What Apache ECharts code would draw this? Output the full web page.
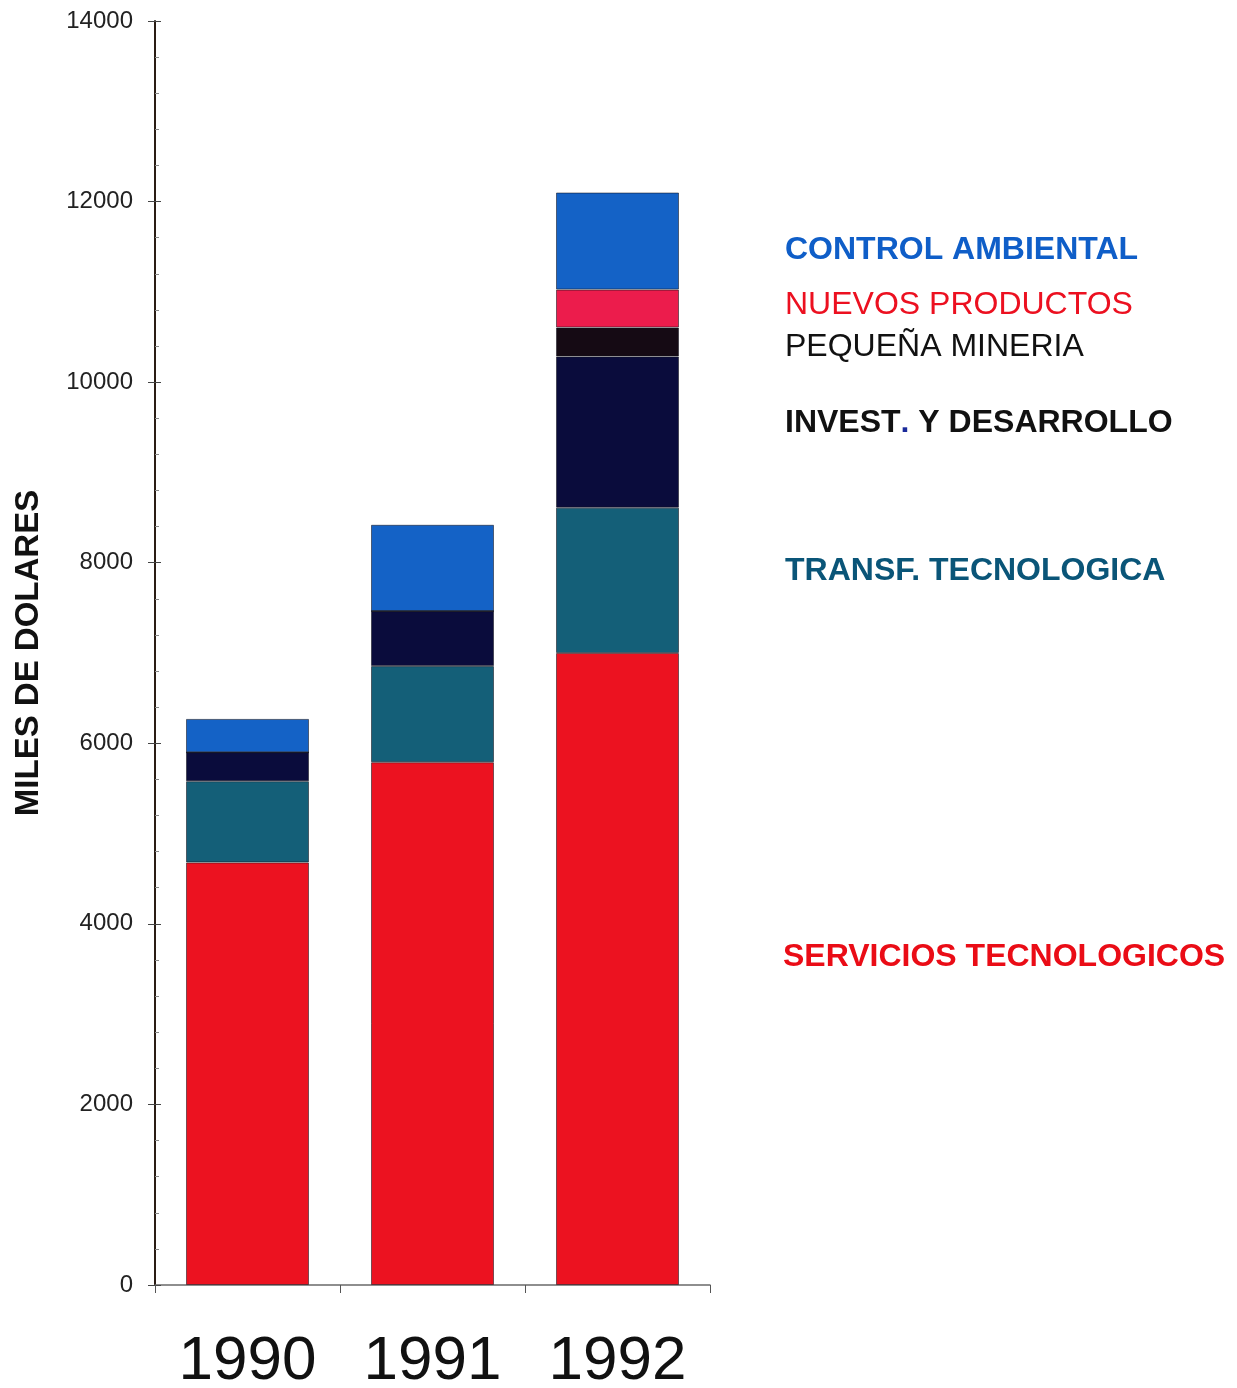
<!DOCTYPE html>
<html>
<head>
<meta charset="utf-8">
<script src="https://cdn.jsdelivr.net/npm/echarts@6/dist/echarts.min.js"></script>
<style>
html,body{margin:0;padding:0;background:#fff;}
#chart{width:1237px;height:1388px;}
</style>
</head>
<body>
<div id="chart"></div>
<script>
const years = ['1990', '1991', '1992'];
const serviciosTecnologicos = [4680, 5790, 7000];
const transfTecnologica = [900, 1065, 1610];
const investDesarrollo = [320, 610, 1675];
const pequenaMineria = [0, 0, 320];
const nuevosProductos = [0, 0, 420];
const controlAmbiental = [370, 955, 1075];
const yTicks = [0, 2000, 4000, 6000, 8000, 10000, 12000, 14000];

const font = 'Liberation Sans, Arial, Helvetica, sans-serif';
const chart = echarts.init(document.getElementById('chart'));

function seg(name, data, color) {
  return {
    name: name, type: 'bar', stack: 'total', data: data,
    barWidth: 123,
    itemStyle: { color: color, borderColor: 'rgba(20,20,30,0.55)', borderWidth: 1 }
  };
}

chart.setOption({
  backgroundColor: '#ffffff',
  animation: false,
  grid: { left: 155, right: 527, top: 21, bottom: 103, containLabel: false, outerBoundsMode: 'none' },
  xAxis: {
    type: 'category', data: years,
    axisLine: { lineStyle: { color: '#6a6a6a', width: 1.5 } },
    axisTick: { show: true, length: 8, lineStyle: { color: '#555' } },
    axisLabel: { fontFamily: font, fontSize: 62, color: '#111', margin: 46 }
  },
  yAxis: [{
    type: 'value', min: yTicks[0], max: yTicks[yTicks.length - 1], interval: 2000,
    axisLine: { show: true, lineStyle: { color: '#2a1c14', width: 2 } },
    axisTick: { show: true, length: 7, lineStyle: { color: '#444' } },
    splitLine: { show: false },
    axisLabel: { fontFamily: font, fontSize: 24, color: '#222', margin: 22, formatter: function (v) { return String(v); } },
    name: 'MILES DE DOLARES', nameLocation: 'middle', nameGap: 110, nameRotate: 90,
    nameTextStyle: { fontFamily: font, fontSize: 33, fontWeight: 'bold', color: '#111' }
  }, {
    type: 'value', min: yTicks[0], max: yTicks[yTicks.length - 1], interval: 2000,
    position: 'left',
    axisLine: { show: false },
    axisTick: { show: true, inside: true, length: 6, lineStyle: { color: '#444' } },
    minorTick: { show: true, splitNumber: 5, length: 4, lineStyle: { color: '#888' } },
    splitLine: { show: false },
    axisLabel: { show: false }
  }],
  series: [
    seg('SERVICIOS TECNOLOGICOS', serviciosTecnologicos, '#ec1220'),
    seg('TRANSF. TECNOLOGICA', transfTecnologica, '#145f78'),
    seg('INVEST. Y DESARROLLO', investDesarrollo, '#0a0c3c'),
    seg('PEQUEÑA MINERIA', pequenaMineria, '#150a14'),
    seg('NUEVOS PRODUCTOS', nuevosProductos, '#ec1c4c'),
    seg('CONTROL AMBIENTAL', controlAmbiental, '#1462c6')
  ],
  graphic: [
    { type: 'text', left: 785, top: 234, style: { text: 'CONTROL AMBIENTAL', fill: '#0f5ec8', font: 'bold 32px ' + font } },
    { type: 'text', left: 785, top: 289, style: { text: 'NUEVOS PRODUCTOS', fill: '#ec1020', font: '32px ' + font } },
    { type: 'text', left: 785, top: 331, style: { text: 'PEQUEÑA MINERIA', fill: '#111', font: '32px ' + font } },
    { type: 'text', left: 785, top: 407, style: {
        text: '{a|INVEST}{b|.}{a| Y DESARROLLO}',
        rich: { a: { fill: '#111', font: 'bold 32px ' + font }, b: { fill: '#1a2a9a', font: 'bold 32px ' + font } }
      } },
    { type: 'text', left: 785, top: 555, style: { text: 'TRANSF. TECNOLOGICA', fill: '#0a5578', font: 'bold 32px ' + font } },
    { type: 'text', left: 783, top: 941, style: { text: 'SERVICIOS TECNOLOGICOS', fill: '#ea0c16', font: 'bold 32px ' + font } }
  ]
});
</script>
</body>
</html>
